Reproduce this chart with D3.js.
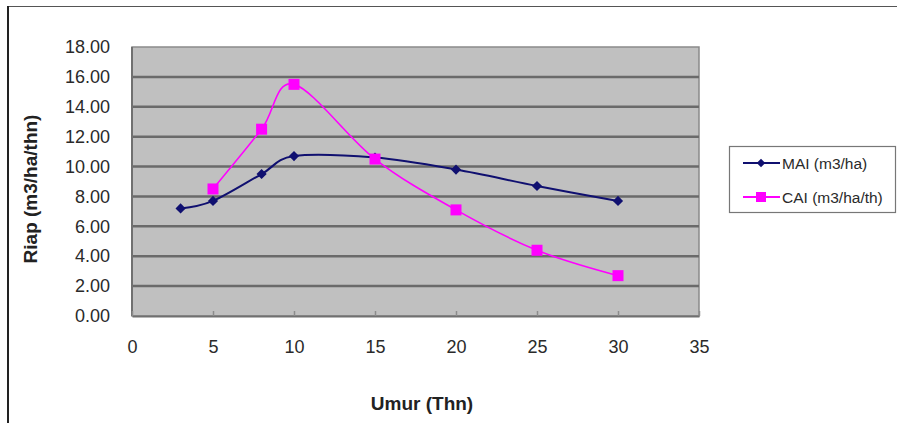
<!DOCTYPE html>
<html>
<head>
<meta charset="utf-8">
<script src="https://cdn.jsdelivr.net/npm/d3@7/dist/d3.min.js"></script>
<style>
  html, body { margin: 0; padding: 0; background: #fff; }
  svg { display: block; font-family: Arial, "Liberation Sans", sans-serif; }
</style>
</head>
<body>
<svg id="chart" width="897" height="423"></svg>
<script>
// Age (years) at each measurement
const ages = [3, 5, 8, 10, 15, 20, 25, 30];
// Mean annual increment (m3/ha)
const mai = [7.2, 7.7, 9.5, 10.7, 10.6, 9.8, 8.7, 7.7];
// Current annual increment (m3/ha/th), not measured at age 3
const caiAges = [5, 8, 10, 15, 20, 25, 30];
const cai = [8.5, 12.5, 15.5, 10.5, 7.1, 4.4, 2.7];
const yTicks = [0, 2, 4, 6, 8, 10, 12, 14, 16, 18];
const xTicks = [0, 5, 10, 15, 20, 25, 30, 35];
const seriesNames = ["MAI (m3/ha)", "CAI (m3/ha/th)"];

const svg = d3.select("#chart");
const plot = { left: 132, right: 699, top: 47, bottom: 316 };

const x = d3.scaleLinear().domain([0, 35]).range([plot.left, plot.right]);
const y = d3.scaleLinear().domain([0, 18]).range([plot.bottom, plot.top]);

// outer frame lines
svg.append("line").attr("x1", 8).attr("x2", 897).attr("y1", 6.5).attr("y2", 6.5)
  .attr("stroke", "#555").attr("stroke-width", 1);
svg.append("line").attr("x1", 8).attr("x2", 8).attr("y1", 6).attr("y2", 423)
  .attr("stroke", "#222").attr("stroke-width", 2);

// plot background
svg.append("rect")
  .attr("x", plot.left).attr("y", plot.top)
  .attr("width", plot.right - plot.left).attr("height", plot.bottom - plot.top)
  .attr("fill", "#c0c0c0").attr("stroke", "#8a8a8a").attr("stroke-width", 1.5);

// horizontal gridlines
svg.append("g").selectAll("line")
  .data(yTicks.filter(d => d > 0 && d < 18))
  .join("line")
  .attr("x1", plot.left).attr("x2", plot.right)
  .attr("y1", d => y(d)).attr("y2", d => y(d))
  .attr("stroke", "#6a6a6a").attr("stroke-width", 2.5);

// left axis line
svg.append("line").attr("x1", plot.left).attr("x2", plot.left)
  .attr("y1", plot.top).attr("y2", plot.bottom)
  .attr("stroke", "#707070").attr("stroke-width", 2);

// y axis
const yAxis = svg.append("g")
  .attr("transform", `translate(${plot.left},0)`)
  .call(d3.axisLeft(y).tickValues(yTicks).tickFormat(d3.format(".2f")).tickSize(0).tickPadding(22));
yAxis.select(".domain").remove();
yAxis.selectAll("text").attr("font-size", 18).attr("fill", "#2a2a2a")
  .attr("font-family", "Arial, 'Liberation Sans', sans-serif");

// x axis
const xAxis = svg.append("g")
  .attr("transform", `translate(0,${plot.bottom})`)
  .call(d3.axisBottom(x).tickValues(xTicks).tickSizeInner(-5).tickSizeOuter(0).tickPadding(24));
xAxis.select(".domain").attr("stroke", "#707070").attr("stroke-width", 2);
xAxis.selectAll(".tick line").attr("stroke", "#8c8c8c").attr("stroke-width", 1.5);
xAxis.selectAll("text").attr("font-size", 18).attr("fill", "#2a2a2a")
  .attr("font-family", "Arial, 'Liberation Sans', sans-serif");

// axis titles
svg.append("text")
  .attr("x", 422).attr("y", 410)
  .attr("text-anchor", "middle")
  .attr("font-size", 19).attr("font-weight", "bold").attr("fill", "#222")
  .text("Umur (Thn)");
svg.append("text")
  .attr("transform", "translate(37,189) rotate(-90)")
  .attr("text-anchor", "middle")
  .attr("font-size", 19).attr("font-weight", "bold").attr("fill", "#222")
  .text("Riap (m3/ha/thn)");

const line = d3.line().x(d => x(d[0])).y(d => y(d[1])).curve(d3.curveCatmullRom.alpha(0));

const maiPts = ages.map((a, i) => [a, mai[i]]);
const caiPts = caiAges.map((a, i) => [a, cai[i]]);

const navy = "#101070";
const magenta = "#ff00ff";

svg.append("path").datum(caiPts).attr("d", line)
  .attr("fill", "none").attr("stroke", magenta).attr("stroke-width", 1.6);
svg.append("path").datum(maiPts).attr("d", line)
  .attr("fill", "none").attr("stroke", navy).attr("stroke-width", 2);

// diamond markers: squares turned 45 degrees
svg.append("g").selectAll("rect")
  .data(maiPts).join("rect")
  .attr("x", -3.6).attr("y", -3.6).attr("width", 7.2).attr("height", 7.2)
  .attr("transform", d => `translate(${x(d[0])},${y(d[1])}) rotate(45)`)
  .attr("fill", navy);

svg.append("g").selectAll("rect")
  .data(caiPts).join("rect")
  .attr("x", d => x(d[0]) - 5.5).attr("y", d => y(d[1]) - 5.5)
  .attr("width", 11).attr("height", 11).attr("fill", magenta);

// legend
const lg = svg.append("g");
lg.append("rect").attr("x", 729.5).attr("y", 146.5).attr("width", 166).attr("height", 66)
  .attr("fill", "#fff").attr("stroke", "#777").attr("stroke-width", 1.2);
const legendItems = [
  { name: seriesNames[0], color: navy, y: 163, marker: "diamond" },
  { name: seriesNames[1], color: magenta, y: 197, marker: "square" }
];
legendItems.forEach(it => {
  lg.append("line").attr("x1", 743).attr("x2", 780).attr("y1", it.y).attr("y2", it.y)
    .attr("stroke", it.color).attr("stroke-width", 2);
  if (it.marker === "diamond") {
    lg.append("rect").attr("x", -3).attr("y", -3).attr("width", 6).attr("height", 6)
      .attr("transform", `translate(761,${it.y}) rotate(45)`).attr("fill", it.color);
  } else {
    lg.append("rect").attr("x", 756).attr("y", it.y - 5).attr("width", 10).attr("height", 10)
      .attr("fill", it.color);
  }
  lg.append("text").attr("x", 782).attr("y", it.y + 5.5)
    .attr("font-size", 15.5).attr("fill", "#2a2a2a").text(it.name);
});
</script>
</body>
</html>
